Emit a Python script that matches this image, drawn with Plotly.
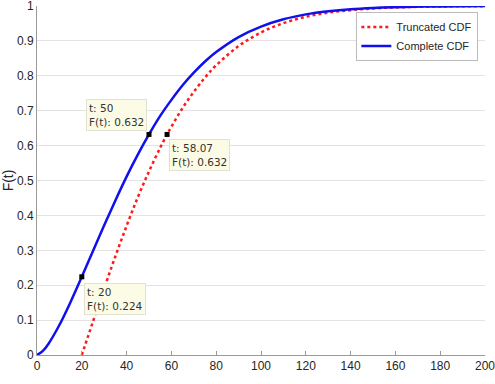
import plotly.graph_objects as go

# Complete CDF
t_complete = [0, 2.5, 5, 10, 15, 20, 25, 30, 35, 40, 45, 50, 55, 60, 65, 70, 75, 80,
              90, 100, 110, 120, 130, 140, 150, 160, 180, 200]
F_complete = [0, 0.011, 0.031, 0.086, 0.152, 0.224, 0.298, 0.372, 0.443, 0.511, 0.574,
              0.632, 0.685, 0.731, 0.773, 0.809, 0.841, 0.868, 0.911, 0.941, 0.962,
              0.976, 0.985, 0.991, 0.9945, 0.9967, 0.9989, 0.9997]

# Truncated CDF
t_trunc = [20, 25, 30, 35, 40, 45, 50, 55, 58.07, 60, 65, 70, 75, 80, 90, 100, 110,
           120, 130, 140, 150, 160, 180, 200]
F_trunc = [0, 0.096, 0.191, 0.283, 0.370, 0.452, 0.526, 0.594, 0.632, 0.654, 0.708,
           0.754, 0.795, 0.830, 0.885, 0.924, 0.951, 0.969, 0.981, 0.988, 0.993,
           0.996, 0.9986, 0.9996]

# Data tips
tip_t = [20, 50, 58.07]
tip_F = [0.224, 0.632, 0.632]
tip_labels = ["t: 20<br>F(t): 0.224", "t: 50<br>F(t): 0.632", "t: 58.07<br>F(t): 0.632"]

y_ticks = [0, 0.1, 0.2, 0.3, 0.4, 0.5, 0.6, 0.7, 0.8, 0.9, 1]
y_ticklabels = ["0", "0.1", "0.2", "0.3", "0.4", "0.5", "0.6", "0.7", "0.8", "0.9", "1"]
x_ticks = [0, 20, 40, 60, 80, 100, 120, 140, 160, 180, 200]

fig = go.Figure()
fig.add_trace(go.Scatter(x=t_trunc, y=F_trunc, mode="lines", name="Truncated CDF",
                         line=dict(color="#ff1a1a", width=2.5, dash="dot", shape="spline")))
fig.add_trace(go.Scatter(x=t_complete, y=F_complete, mode="lines", name="Complete CDF",
                         line=dict(color="#1010ee", width=2.5, shape="spline")))
fig.add_trace(go.Scatter(x=tip_t, y=tip_F, mode="markers", showlegend=False,
                         marker=dict(color="black", size=5, symbol="square")))

placements = [
    dict(xanchor="left", yanchor="top", xshift=2, yshift=-6),
    dict(xanchor="right", yanchor="bottom", xshift=-2, yshift=3),
    dict(xanchor="left", yanchor="top", xshift=2, yshift=-5),
]
for tt, ff, lab, pl in zip(tip_t, tip_F, tip_labels, placements):
    fig.add_annotation(x=tt, y=ff, text=lab, showarrow=False, align="left",
                       bgcolor="#fcfce6", bordercolor="#e2e2d0", borderwidth=1, borderpad=2,
                       font=dict(family="DejaVu Sans", size=10.5, color="#333333"), **pl)

# x-axis title (sits at the very bottom edge, mostly cut off as in the reference)
fig.add_annotation(x=0.5, y=0, xref="paper", yref="paper", text="t", showarrow=False,
                   xanchor="center", yanchor="top", yshift=-25,
                   font=dict(family="Liberation Sans", size=13, color="#262626"))

fig.update_layout(
    width=495, height=384,
    margin=dict(l=37, r=10, t=6, b=29),
    paper_bgcolor="white", plot_bgcolor="white",
    font=dict(family="Liberation Sans", size=12, color="#262626"),
    showlegend=True,
    legend=dict(x=0.984, y=0.983, xanchor="right", yanchor="top",
                bgcolor="white", bordercolor="#777777", borderwidth=0.5,
                font=dict(size=11, color="#262626"), tracegroupgap=0,
                itemwidth=30),
)
fig.update_xaxes(range=[0, 200], tickvals=x_ticks, ticks="inside", ticklen=4,
                 tickcolor="#999999", showgrid=False, showline=True, linecolor="#999999",
                 zeroline=False, automargin=False, ticklabeloverflow="allow")
fig.update_yaxes(range=[0, 1], tickvals=y_ticks, ticktext=y_ticklabels, ticks="",
                 showgrid=True, gridcolor="#e3e3e3", showline=True, linecolor="#999999",
                 zeroline=False, title=dict(text="F(t)", standoff=4), automargin=False,
                 ticklabeloverflow="allow")

fig.write_html("out.html")
